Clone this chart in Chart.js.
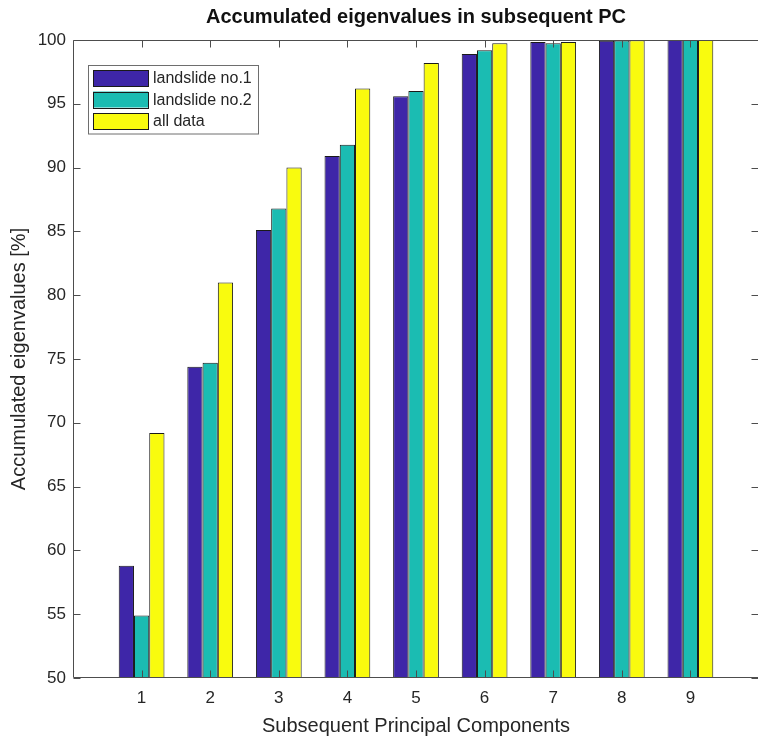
<!DOCTYPE html>
<html>
<head>
<meta charset="utf-8">
<script src="https://cdn.jsdelivr.net/npm/chart.js@4/dist/chart.umd.min.js"></script>
<style>
  html, body { margin: 0; padding: 0; background: #ffffff; overflow: hidden; }
  #wrap { width: 760px; height: 738px; }
</style>
</head>
<body>
<div id="wrap"><canvas id="c" width="760" height="738"></canvas></div>
<script>
// Principal components (x positions) and accumulated eigenvalues [%]
const components = [1, 2, 3, 4, 5, 6, 7, 8, 9];
const landslide1 = [58.8, 74.4, 85.1, 90.9, 95.6, 98.9, 99.85, 99.95, 100];
const landslide2 = [54.9, 74.7, 86.8, 91.8, 96.0, 99.2, 99.75, 99.97, 100];
const allData    = [69.2, 81.0, 90.0, 96.2, 98.2, 99.75, 99.85, 99.98, 100];
const seriesNames = ['landslide no.1', 'landslide no.2', 'all data'];
const yTicks = [50, 55, 60, 65, 70, 75, 80, 85, 90, 95, 100];

const colors = ['rgb(62,38,168)', 'rgb(27,188,178)', 'rgb(249,251,14)'];
const axisColor = '#4d4d4d';
const textColor = '#262626';
const FONT = '"Liberation Sans", Arial, Helvetica, sans-serif';

function toPoints(vals) {
  return components.map((c, i) => ({ x: c, y: vals[i] }));
}

// Box frame with inward tick marks on all four sides
const framePlugin = {
  id: 'frame',
  afterDatasetsDraw(chart) {
    const { ctx, chartArea: a, scales } = chart;
    const L = Math.round(a.left) + 0.5, R = Math.round(a.right) - 0.5;
    const T = Math.round(a.top) + 0.5, B = Math.round(a.bottom) - 0.5;
    const len = 7;
    ctx.save();
    ctx.strokeStyle = axisColor;
    ctx.lineWidth = 1;
    ctx.beginPath();
    ctx.moveTo(L, B); ctx.lineTo(L, T); ctx.lineTo(R, T); ctx.lineTo(R, B); ctx.lineTo(L, B);
    components.forEach(c => {
      const px = Math.round(scales.x.getPixelForValue(c)) + 0.5;
      ctx.moveTo(px, B); ctx.lineTo(px, B - len);
      ctx.moveTo(px, T); ctx.lineTo(px, T + len);
    });
    yTicks.forEach(v => {
      const py = Math.round(scales.y.getPixelForValue(v)) + 0.5;
      ctx.moveTo(L, py); ctx.lineTo(L + len, py);
      ctx.moveTo(R, py); ctx.lineTo(R - len, py);
    });
    ctx.stroke();
    ctx.restore();
  }
};

// Boxed legend in the upper-left corner of the plot
const boxLegendPlugin = {
  id: 'boxLegend',
  afterDraw(chart) {
    const { ctx, chartArea: a } = chart;
    const x0 = a.left + 15, y0 = a.top + 25;
    const w = 170, rowH = 21.5, h = 68.5;
    ctx.save();
    ctx.fillStyle = '#ffffff';
    ctx.fillRect(x0, y0, w, h);
    ctx.strokeStyle = '#6e6e6e';
    ctx.lineWidth = 1;
    ctx.strokeRect(Math.round(x0) + 0.5, Math.round(y0) + 0.5, w, h);
    ctx.font = '16px ' + FONT;
    ctx.textBaseline = 'middle';
    chart.data.datasets.forEach((ds, i) => {
      const cy = y0 + 13 + i * rowH;
      ctx.fillStyle = ds.backgroundColor;
      ctx.fillRect(x0 + 5, cy - 8, 55, 16);
      ctx.strokeStyle = '#1a1a1a';
      ctx.strokeRect(Math.round(x0 + 5) + 0.5, Math.round(cy - 8) + 0.5, 55, 16);
      ctx.fillStyle = textColor;
      ctx.fillText(ds.label, x0 + 65, cy + 1);
    });
    ctx.restore();
  }
};

const datasets = [landslide1, landslide2, allData].map((vals, i) => ({
  label: seriesNames[i],
  data: toPoints(vals),
  backgroundColor: colors[i],
  borderColor: '#1a1a1a',
  borderWidth: 1,
  categoryPercentage: 0.667,
  barPercentage: 1.0
}));

new Chart(document.getElementById('c'), {
  type: 'bar',
  data: { datasets },
  options: {
    responsive: false,
    animation: false,
    layout: { padding: { left: 0, right: 1, top: 0, bottom: 0 } },
    plugins: {
      legend: { display: false },
      tooltip: { enabled: false },
      title: {
        display: true,
        fullSize: false,
        text: 'Accumulated eigenvalues in subsequent PC',
        color: '#111111',
        font: { family: FONT, size: 20, weight: 'bold' },
        padding: { top: 5, bottom: 11 }
      }
    },
    scales: {
      x: {
        type: 'linear',
        min: 0,
        max: 10,
        offset: false,
        grid: { display: false, drawTicks: false },
        border: { display: false },
        ticks: {
          stepSize: 1,
          autoSkip: false,
          maxRotation: 0,
          padding: 10,
          color: textColor,
          font: { family: FONT, size: 17 },
          callback: v => (components.includes(v) ? String(v) : '')
        },
        title: {
          display: true,
          text: 'Subsequent Principal Components',
          color: textColor,
          font: { family: FONT, size: 20 },
          padding: { top: 0, bottom: 0 }
        },
        afterFit(scale) {
          scale.height = 60;
          scale.paddingLeft = 0;
          scale.paddingRight = 0;
        }
      },
      y: {
        min: 50,
        max: 100,
        grid: { display: false, drawTicks: false },
        border: { display: false },
        afterBuildTicks(scale) { scale.ticks = yTicks.map(v => ({ value: v })); },
        ticks: {
          padding: 7,
          color: textColor,
          font: { family: FONT, size: 17 }
        },
        title: {
          display: true,
          text: 'Accumulated eigenvalues [%]',
          color: textColor,
          font: { family: FONT, size: 20 },
          padding: { top: 7, bottom: 0 }
        },
        afterFit(scale) { scale.width = 73; }
      }
    }
  },
  plugins: [framePlugin, boxLegendPlugin]
});
</script>
</body>
</html>
